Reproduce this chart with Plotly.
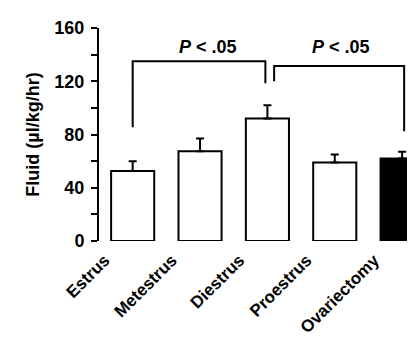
import plotly.graph_objects as go

categories = ["Estrus", "Metestrus", "Diestrus", "Proestrus", "Ovariectomy"]
means = [52.5, 67.5, 92, 59, 62]
err_upper = [7.5, 9.5, 10, 6, 5]
bar_fill = ["white", "white", "white", "white", "black"]

# significance brackets (x in category index, y in data units)
bracket1_x = [0, 0, 1.97, 1.97]
bracket1_y = [85.5, 135, 135, 118.5]
bracket2_x = [2.1, 2.1, 4.03, 4.03]
bracket2_y = [120, 131.5, 131.5, 82.5]
sig_labels = ["<b><i>P</i> &lt; .05</b>", "<b><i>P</i> &lt; .05</b>"]
sig_x = [1.12, 3.09]
sig_y = [146, 146]

FONT = "Liberation Sans, Arial, sans-serif"
x_idx = list(range(len(categories)))

fig = go.Figure()
fig.add_trace(go.Bar(
    x=x_idx, y=means, width=0.64,
    marker=dict(color=bar_fill, line=dict(color="black", width=2)),
    error_y=dict(type="data", symmetric=False, array=err_upper,
                 arrayminus=[0] * len(means), color="black",
                 thickness=2, width=4),
    showlegend=False,
))
for bx, by in [(bracket1_x, bracket1_y), (bracket2_x, bracket2_y)]:
    fig.add_trace(go.Scatter(x=bx, y=by, mode="lines",
                             line=dict(color="black", width=2),
                             showlegend=False, hoverinfo="skip"))
for t, sx, sy in zip(sig_labels, sig_x, sig_y):
    fig.add_annotation(x=sx, y=sy, text=t, showarrow=False,
                       xanchor="center", yanchor="middle",
                       font=dict(family=FONT, size=18, color="black"))

fig.update_layout(
    width=415, height=340,
    margin=dict(l=91, r=0, t=20, b=107),
    paper_bgcolor="white", plot_bgcolor="white",
    font=dict(family=FONT, size=18, color="black"),
)
fig.update_xaxes(
    range=[-0.5, 4.31], tickmode="array", tickvals=x_idx,
    ticktext=["<b>%s</b>" % c for c in categories],
    tickangle=-45, showline=False, showgrid=False, zeroline=False,
    ticks="", ticklabelshift=-28, ticklabelstandoff=5,
    tickfont=dict(family=FONT, size=17, color="black"),
)
fig.update_yaxes(
    range=[0, 160], tickmode="array", tickvals=[0, 20, 40, 60, 80, 100, 120, 140, 160],
    ticktext=["<b>0</b>", "", "<b>40</b>", "", "<b>80</b>", "", "<b>120</b>", "", "<b>160</b>"],
    showline=True, linecolor="black", linewidth=2,
    ticks="outside", ticklen=6, tickwidth=2, tickcolor="black",
    showgrid=False, zeroline=False, ticklabelstandoff=3,
    tickfont=dict(family=FONT, size=18, color="black"),
    title=dict(text="<b>Fluid (µl/kg/hr)</b>", font=dict(family=FONT, size=18, color="black"),
               standoff=10),
)
fig.write_html("out.html")
